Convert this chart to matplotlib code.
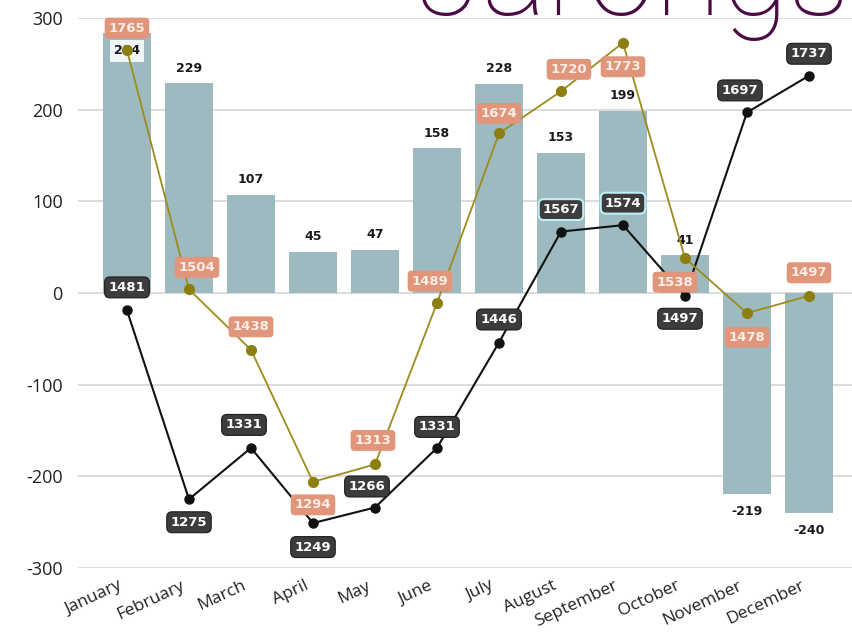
import matplotlib.pyplot as plt
from matplotlib.transforms import ScaledTranslation

plt.rcParams['axes.unicode_minus'] = False

months = ['January', 'February', 'March', 'April', 'May', 'June', 'July',
          'August', 'September', 'October', 'November', 'December']
change = [284, 229, 107, 45, 47, 158, 228, 153, 199, 41, -219, -240]
dark_series = [1481, 1275, 1331, 1249, 1266, 1331, 1446, 1567, 1574, 1497, 1697, 1737]
olive_series = [1765, 1504, 1438, 1294, 1313, 1489, 1674, 1720, 1773, 1538, 1478, 1497]

# label offsets in pixels (dx, dy) so the boxes clear the line
dark_off = [(0, 23), (0, -23), (-7, 23), (0, -24), (-8, 21), (0, 21),
            (0, 23), (0, 22), (0, 22), (-5, -23), (-7, 22), (0, 22)]
olive_off = [(0, 22), (8, 22), (0, 23), (0, -23), (-2, 24), (-7, 22),
             (0, 20), (8, 22), (0, -24), (-10, -24), (0, -24), (0, 23)]

bar_color = '#9dbac0'
dark_color = '#111111'
olive_color = '#9c8c1c'
salmon = '#e1957a'
box_dark = '#3c3c3e'

fig = plt.figure(figsize=(8.53, 6.4), dpi=100)
ax = fig.add_axes([78 / 853, 1 - 568 / 640, 1 - 78 / 853, 550 / 640])

x = range(len(months))
ax.bar(x, change, width=0.78, color=bar_color, zorder=2)
ax.set_xlim(-0.79, 11.71)
ax.set_ylim(-300, 300)
ax.set_yticks([-300, -200, -100, 0, 100, 200, 300])
ax.grid(axis='y', color='#d6d6d6', linewidth=1.2, zorder=0)
for s in ax.spines.values():
    s.set_visible(False)
ax.tick_params(axis='both', length=0, colors='#222222')
ax.tick_params(axis='y', labelsize=13, pad=11)
for lab in ax.get_yticklabels():
    lab.set_fontfamily('Open Sans')
ax.set_xticks(list(x))
ax.set_xticklabels(months, rotation=25, ha='right', rotation_mode='anchor',
                   fontsize=12.5, fontfamily='Open Sans', color='#222222')
ax.tick_params(axis='x', pad=7)
shift = ScaledTranslation(-9 / 100, 0, fig.dpi_scale_trans)
for lab in ax.get_xticklabels():
    lab.set_transform(lab.get_transform() + shift)

# bar values
for i, v in enumerate(change):
    if i == 0:
        ax.annotate(str(v), (i, v), xytext=(0, -18), textcoords='offset pixels',
                    ha='center', va='center', fontsize=9, fontweight='bold',
                    color='#1a1a1a', zorder=6,
                    bbox=dict(boxstyle='square,pad=0.35', fc='#eef6f8', ec='none'))
    elif v >= 0:
        ax.annotate(str(v), (i, v), xytext=(0, 15), textcoords='offset pixels',
                    ha='center', va='center', fontsize=9, fontweight='bold',
                    color='#1a1a1a', zorder=6)
    else:
        ax.annotate(str(v), (i, v), xytext=(0, -18), textcoords='offset pixels',
                    ha='center', va='center', fontsize=9, fontweight='bold',
                    color='#1a1a1a', zorder=6)

# two running series on a shared secondary scale
ax2 = ax.twinx()
ax2.set_ylim(1200, 1800)
ax2.axis('off')

ax2.plot(x, dark_series, color=dark_color, linewidth=1.5, marker='o',
         markersize=6.5, zorder=3)
ax2.plot(x, olive_series, color=olive_color, linewidth=1.3, marker='o',
         markersize=7, markerfacecolor='#8c7f10', markeredgecolor='#8c7f10', zorder=4)

for i, v in enumerate(dark_series):
    glow = '#bfeff5' if i in (7, 8) else '#1c1c1c'
    ax2.annotate(str(v), (i, v), xytext=dark_off[i], textcoords='offset pixels',
                 ha='center', va='center', fontsize=9.5, fontweight='bold',
                 color='white', zorder=7,
                 bbox=dict(boxstyle='round,pad=0.3,rounding_size=0.4',
                           fc=box_dark, ec=glow, lw=1.5 if i in (7, 8) else 0.8))

for i, v in enumerate(olive_series):
    ax2.annotate(str(v), (i, v), xytext=olive_off[i], textcoords='offset pixels',
                 ha='center', va='center', fontsize=9.5, fontweight='bold',
                 color='#fbeee6', zorder=8,
                 bbox=dict(boxstyle='round,pad=0.3,rounding_size=0.3',
                           fc=salmon, ec='none'))

fig.text(416 / 853, 1 - 15 / 640, 'Jarongse', fontsize=88, fontfamily='Roboto',
         fontweight='light', color='#4a0a44', ha='left', va='baseline')

fig.savefig('out.png', dpi=100)
